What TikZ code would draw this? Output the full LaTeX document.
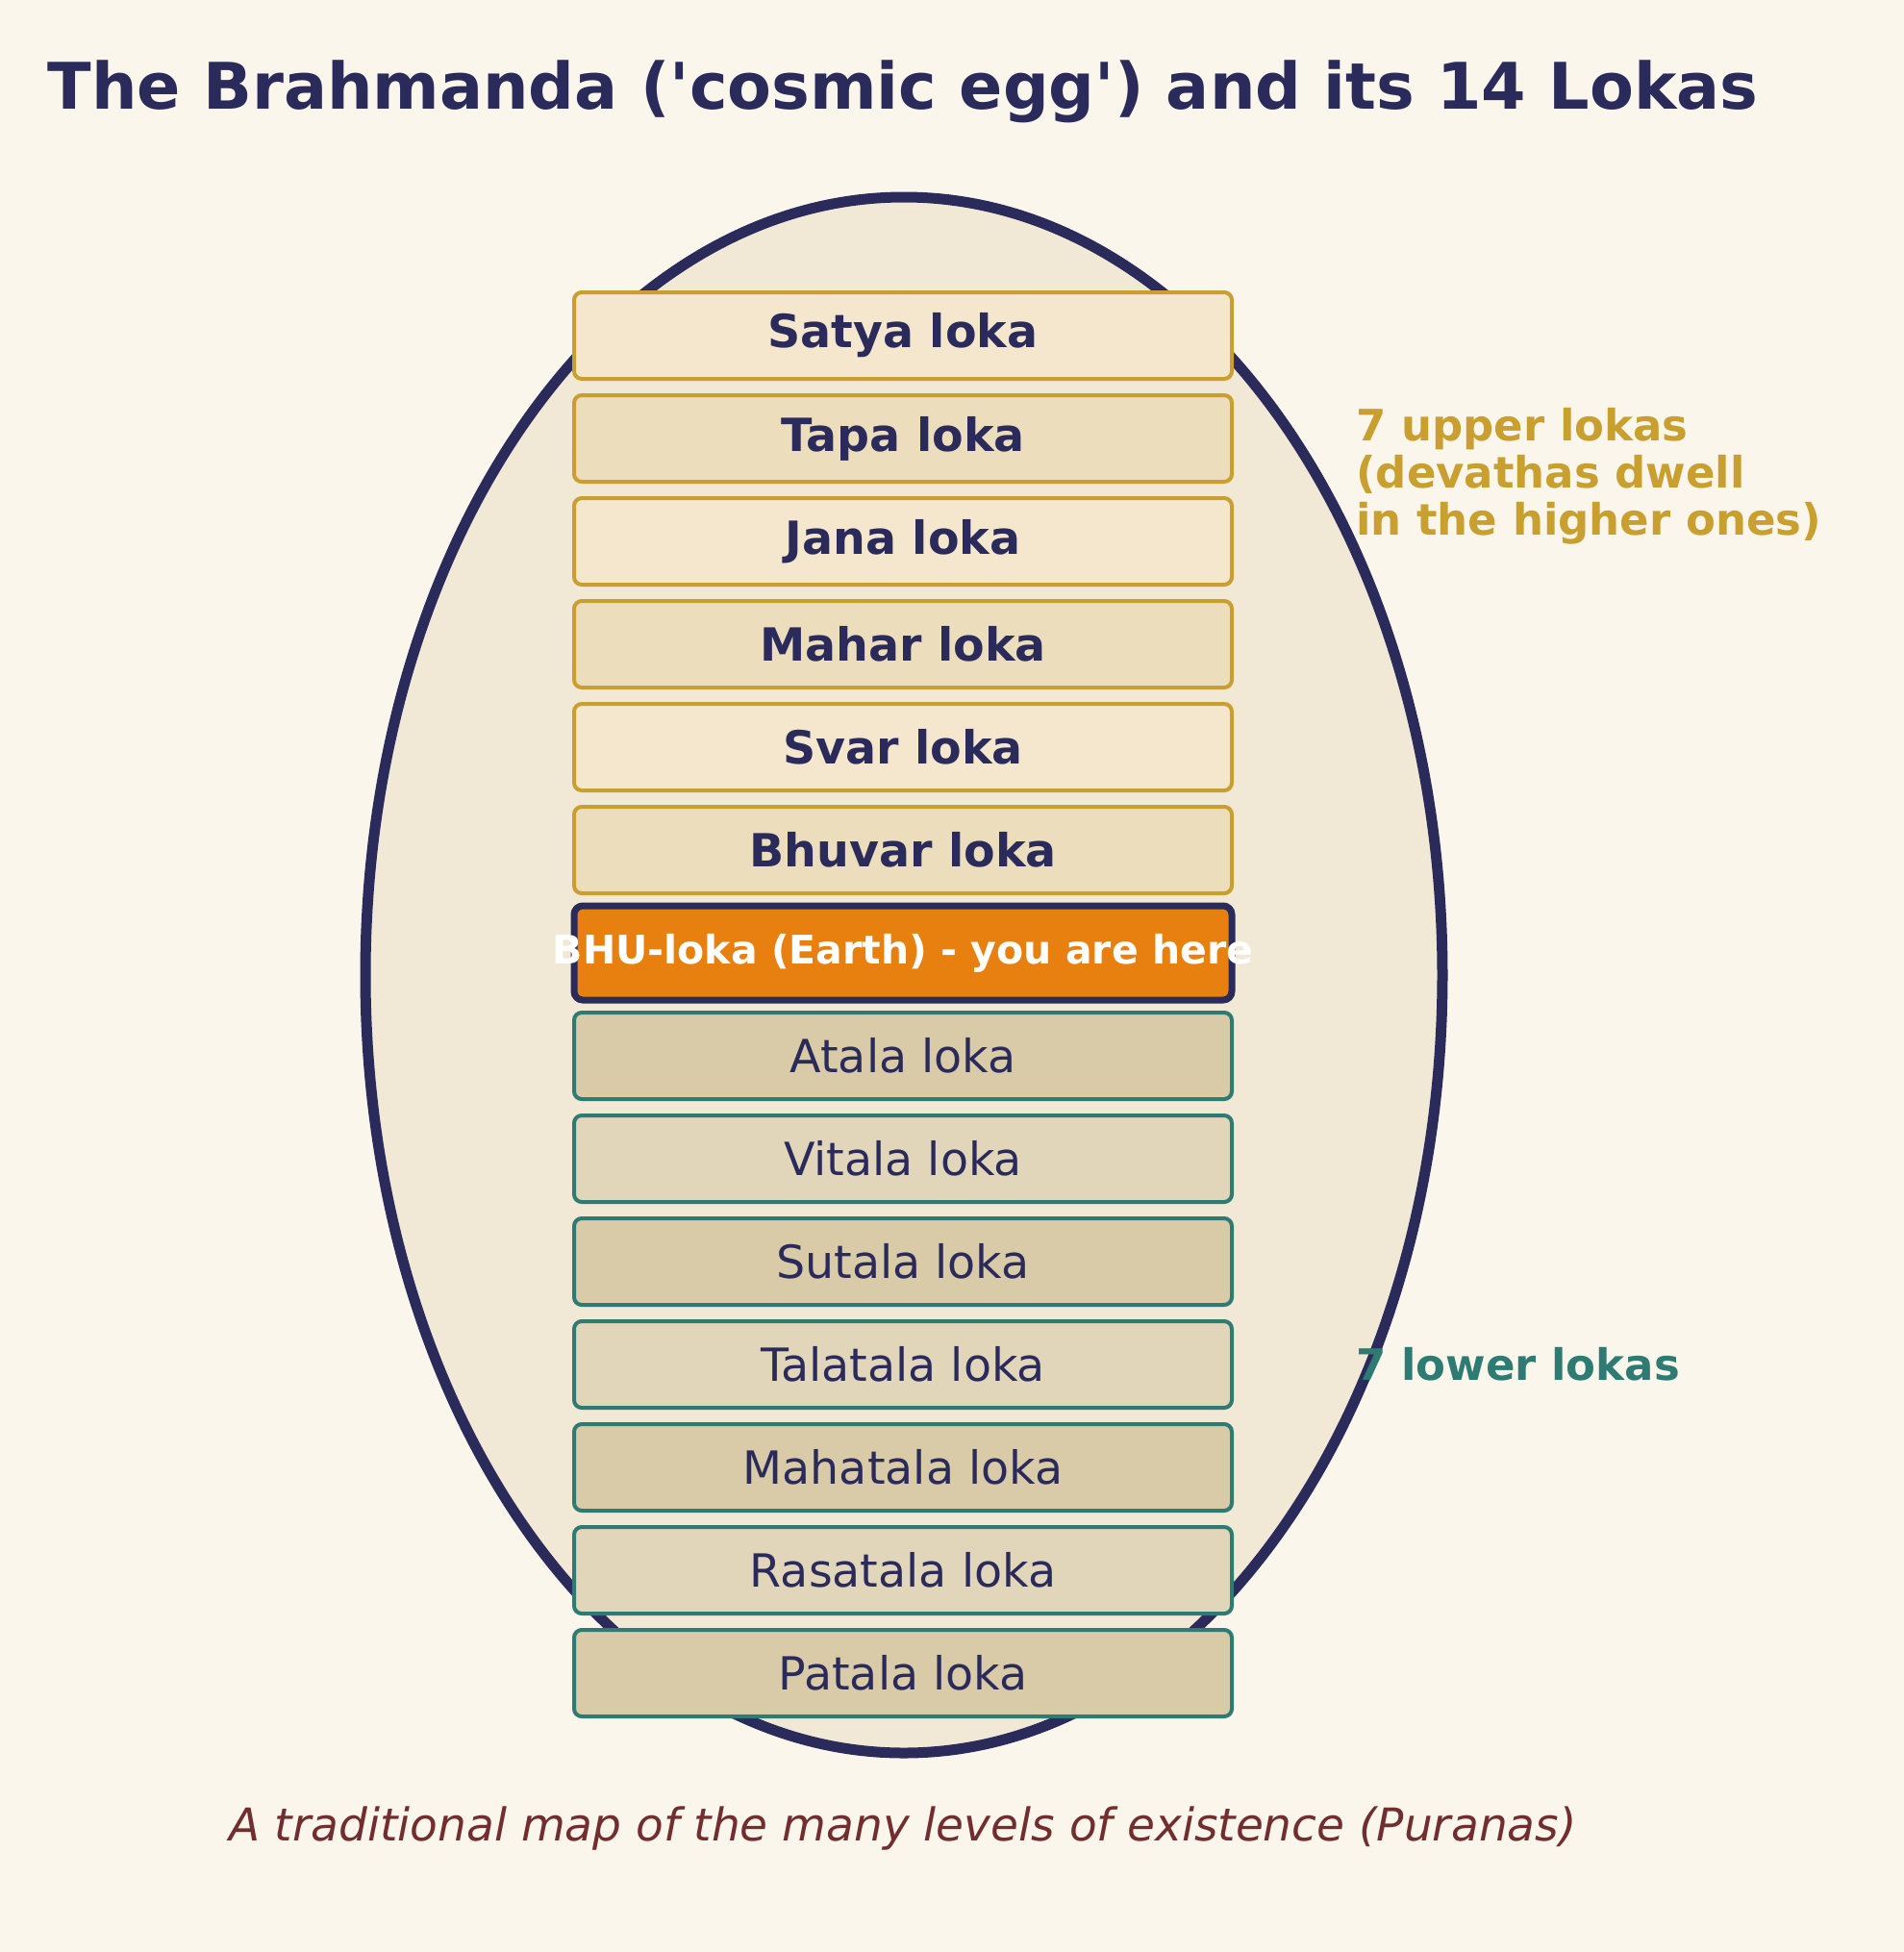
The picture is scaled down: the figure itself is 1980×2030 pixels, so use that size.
\documentclass[tikz,border=0pt]{standalone}
\usepackage{fontspec}
\setmainfont{DejaVu Sans}[Ligatures=TeXOff]
\definecolor{bgc}{HTML}{FAF6EC}
\definecolor{eggfill}{HTML}{F2E8D6}
\definecolor{navy}{HTML}{2A2B5B}
\definecolor{gold}{HTML}{C9A030}
\definecolor{upA}{HTML}{F4E7CE}
\definecolor{upB}{HTML}{ECDDBC}
\definecolor{teal}{HTML}{2E7B73}
\definecolor{loA}{HTML}{D9CAA8}
\definecolor{loB}{HTML}{E2D6BA}
\definecolor{earth}{HTML}{E8800F}
\definecolor{maroon}{HTML}{722E2E}
\tikzset{
  lokabox/.style={rectangle, rounded corners=8pt, minimum width=684pt, minimum height=90pt, inner sep=0pt, line width=4pt},
  upbox/.style={lokabox, draw=gold, text=navy, font=\fontsize{47.5}{56}\selectfont\bfseries},
  lobox/.style={lokabox, draw=teal, text=navy, font=\fontsize{47.5}{56}\selectfont},
  earthbox/.style={lokabox, draw=navy, fill=earth, line width=7pt, minimum height=98pt, rounded corners=9pt},
  earthtext/.style={text=white, inner sep=0pt, font=\fontsize{41}{48}\selectfont\bfseries},
  sidelabel/.style={anchor=west, align=left, inner sep=0pt, font=\fontsize{45}{49}\selectfont\bfseries},
}
\begin{document}
\begin{tikzpicture}[x=1pt,y=-1pt]
\fill[bgc] (0,0) rectangle (1980,2030);
\useasboundingbox (0,0) rectangle (1980,2030);
\node[text=navy, font=\fontsize{66.8}{80}\selectfont\bfseries] (title) at (939,95) {The Brahmanda ('cosmic egg') and its 14 Lokas};
\draw[navy, fill=eggfill, line width=11pt] (940,1014) ellipse [x radius=560, y radius=809];
\node[upbox, fill=upA] (satya) at (939,349) {Satya loka};
\node[upbox, fill=upB] (tapa) at (939,456) {Tapa loka};
\node[upbox, fill=upA] (jana) at (939,563) {Jana loka};
\node[upbox, fill=upB] (mahar) at (939,670) {Mahar loka};
\node[upbox, fill=upA] (svar) at (939,777) {Svar loka};
\node[upbox, fill=upB] (bhuvar) at (939,884) {Bhuvar loka};
\node[earthbox] (bhu) at (939,991) {};
\node[earthtext] (bhulbl) at (bhu.center) {BHU-loka (Earth) - you are here};
\node[lobox, fill=loA] (atala) at (939,1098) {Atala loka};
\node[lobox, fill=loB] (vitala) at (939,1205) {Vitala loka};
\node[lobox, fill=loA] (sutala) at (939,1312) {Sutala loka};
\node[lobox, fill=loB] (talatala) at (939,1419) {Talatala loka};
\node[lobox, fill=loA] (mahatala) at (939,1526) {Mahatala loka};
\node[lobox, fill=loB] (rasatala) at (939,1633) {Rasatala loka};
\node[lobox, fill=loA] (patala) at (939,1740) {Patala loka};
\node[sidelabel, text=gold] (upperlbl) at (1410,495) {7 upper lokas\\(devathas dwell\\in the higher ones)};
\node[sidelabel, text=teal] (lowerlbl) at (1410,1419) {7 lower lokas};
\node[text=maroon, font=\fontsize{47}{56}\selectfont\itshape] (caption) at (939,1902) {A traditional map of the many levels of existence (Puranas)};
\end{tikzpicture}
\end{document}
